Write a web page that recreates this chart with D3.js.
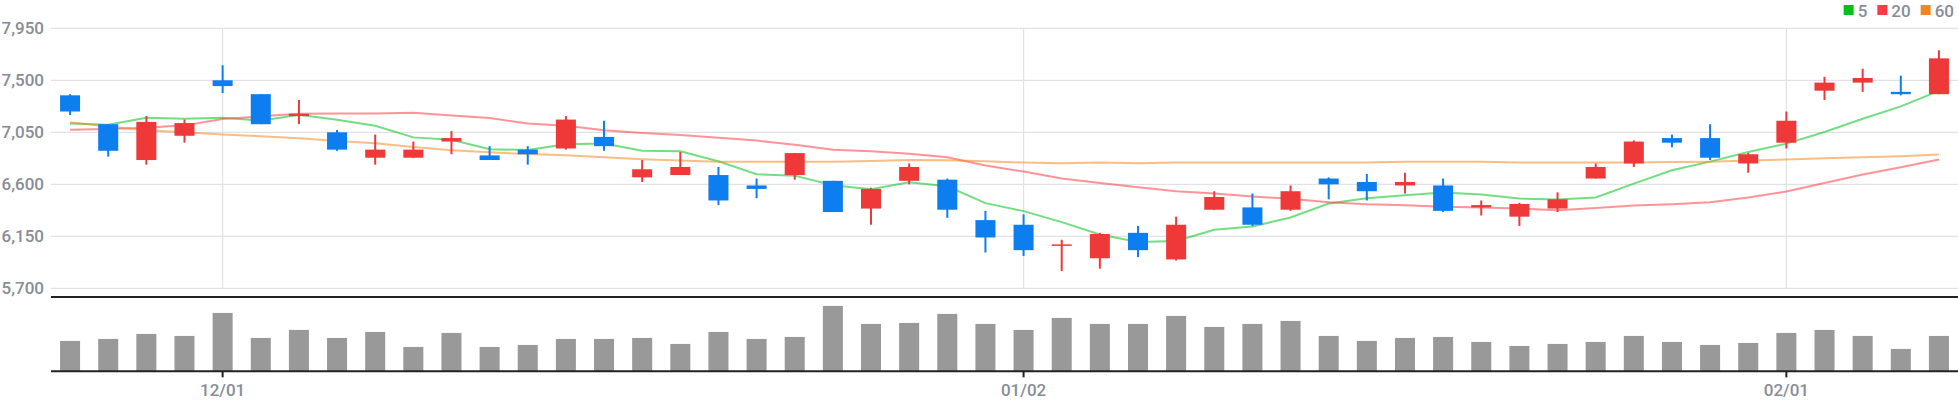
<!DOCTYPE html>
<html><head><meta charset="utf-8">
<script src="https://cdn.jsdelivr.net/npm/d3@7"></script>
<style>
body{margin:0;background:#fff;}
svg{display:block;font-family:Roboto, "Noto Sans", sans-serif;}
</style>
</head><body>
<svg id="chart" width="1958" height="400"></svg>
<script>
const dates = ["11/25","11/28","11/29","11/30",
  "12/01","12/02","12/05","12/06","12/07","12/08","12/09","12/12","12/13","12/14","12/15","12/16","12/19","12/20","12/21","12/22","12/23","12/26","12/27","12/28","12/29",
  "01/02","01/03","01/04","01/05","01/06","01/09","01/10","01/11","01/12","01/13","01/16","01/17","01/18","01/19","01/20","01/25","01/26","01/27","01/30","01/31",
  "02/01","02/02","02/03","02/06","02/07"];
const openP  = [7370,7120,6810,7020,7500,7380,7190,7050,6830,6830,6970,6850,6900,6910,7010,6660,6680,6680,6590,6680,6630,6390,6630,6640,6290,6250,6070,5960,6180,5950,6380,6400,6380,6650,6620,6590,6590,6400,6320,6390,6650,6780,7000,7000,6780,6960,7410,7480,7400,7380];
const highP  = [7380,7120,7190,7160,7630,7380,7330,7070,7030,6970,7060,6930,6930,7190,7150,6810,6880,6750,6650,6870,6630,6570,6780,6650,6370,6340,6120,6180,6240,6320,6540,6520,6590,6660,6690,6700,6650,6460,6440,6530,6780,6980,7030,7120,6870,7230,7530,7600,7540,7760];
const lowP   = [7200,6840,6770,6960,7390,7120,7120,6890,6770,6830,6860,6810,6770,6900,6890,6620,6680,6420,6480,6640,6360,6250,6600,6310,6010,5980,5850,5870,5970,5940,6380,6240,6370,6470,6460,6520,6360,6330,6240,6360,6650,6750,6920,6810,6700,6910,7330,7400,7370,7380];
const closeP = [7230,6890,7140,7130,7450,7120,7210,6900,6900,6900,7000,6810,6860,7160,6930,6730,6750,6460,6560,6870,6360,6560,6750,6380,6140,6030,6080,6170,6030,6250,6490,6250,6540,6600,6540,6620,6370,6420,6430,6470,6750,6970,6960,6830,6860,7150,7480,7520,7380,7690];
const volume = [182000,194000,224000,212000,350000,200000,248000,200000,236000,146000,230000,146000,158000,194000,194000,200000,164000,236000,194000,206000,392000,284000,290000,344000,284000,248000,320000,284000,284000,332000,266000,284000,302000,212000,182000,200000,206000,176000,152000,164000,176000,212000,176000,158000,170000,230000,248000,212000,134000,212000];
const ma5  = [7127,7116,7176,7167,7176,7150,7202,7159,7107,7006,6986,6903,6897,6946,6952,6891,6885,6799,6687,6675,6592,6557,6618,6583,6437,6368,6273,6166,6100,6109,6207,6235,6313,6434,6480,6506,6529,6511,6477,6468,6486,6606,6722,6796,6880,6952,7052,7167,7274,7409];
const ma20 = [7073,7078,7090,7110,7165,7188,7211,7213,7213,7219,7196,7173,7127,7107,7067,7044,7026,7003,6978,6943,6900,6885,6865,6834,6762,6710,6650,6612,6575,6540,6520,6494,6474,6445,6428,6419,6405,6399,6391,6376,6394,6417,6428,6445,6486,6537,6612,6684,6747,6814];
const ma60 = [7136,7101,7067,7050,7032,7015,6998,6975,6955,6923,6894,6877,6862,6851,6834,6816,6805,6796,6796,6796,6796,6802,6811,6808,6799,6788,6782,6788,6782,6788,6788,6788,6788,6788,6788,6796,6796,6796,6788,6788,6788,6788,6793,6796,6805,6814,6825,6834,6842,6857];
const priceTicks = [5700,6150,6600,7050,7500,7950];
const dateTicks = ["12/01","01/02","02/01"];
const legendLabels = ["5","20","60"];

const W = 1958, H = 400;
const left = 51, right = 1958;
const priceTop = 28.3, priceBottom = 288.3;
const volTop = 297, volBottom = 371.3;
const textColor = "#878d97";
const fontSize = "17px";
const fontWeight = 500;
const upColor = "#ef3838", downColor = "#0c7ef0";
const legendColors = ["#00c31a","#ff3a44","#f5861f"];
const maSeries = [ma5, ma20, ma60];

const svg = d3.select("#chart");

const x = d3.scaleBand().domain(dates).range([left, right]).paddingInner(0.475).paddingOuter(0.2375);
const cx = d => x(d) + x.bandwidth() / 2;
const y = d3.scaleLinear().domain([priceTicks[0], priceTicks[priceTicks.length-1]]).range([priceBottom, priceTop]);
const yv = d3.scaleLinear().domain([0, d3.max(volume) / 0.88]).range([volBottom, volTop]);

// grid
const grid = svg.append("g");
grid.selectAll("line.h").data(priceTicks).join("line")
  .attr("x1", left).attr("x2", right)
  .attr("y1", d => y(d)).attr("y2", d => y(d))
  .attr("stroke", "#e0e2e7").attr("stroke-width", 1.2);
grid.selectAll("line.v").data(dateTicks).join("line")
  .attr("x1", d => cx(d)).attr("x2", d => cx(d))
  .attr("y1", priceTop).attr("y2", priceBottom)
  .attr("stroke", "#e0e2e7").attr("stroke-width", 1.2);

// y labels
svg.append("g").selectAll("text").data(priceTicks).join("text")
  .attr("x", 44).attr("y", d => y(d)).attr("dy", "0.36em")
  .attr("text-anchor", "end").attr("fill", textColor)
  .attr("font-size", fontSize).attr("font-weight", fontWeight)
  .text(d => d3.format(",")(d));

// MA lines
const lineGen = d3.line().x((d, i) => cx(dates[i])).y(d => y(d));
svg.append("g").selectAll("path").data(maSeries).join("path")
  .attr("d", d => lineGen(d)).attr("fill", "none")
  .attr("stroke", (d, i) => legendColors[i]).attr("stroke-opacity", 0.55)
  .attr("stroke-width", 2);

// candles
const idx = d3.range(dates.length);
const cg = svg.append("g");
cg.selectAll("line").data(idx).join("line")
  .attr("x1", i => cx(dates[i])).attr("x2", i => cx(dates[i]))
  .attr("y1", i => y(highP[i])).attr("y2", i => y(lowP[i]))
  .attr("stroke", i => closeP[i] >= openP[i] ? upColor : downColor)
  .attr("stroke-width", 2);
cg.selectAll("rect").data(idx).join("rect")
  .attr("x", i => x(dates[i])).attr("width", x.bandwidth())
  .attr("y", i => y(Math.max(openP[i], closeP[i])))
  .attr("height", i => Math.max(1.5, Math.abs(y(openP[i]) - y(closeP[i]))))
  .attr("fill", i => closeP[i] >= openP[i] ? upColor : downColor);

// volume
svg.append("g").selectAll("rect").data(idx).join("rect")
  .attr("x", i => x(dates[i])).attr("width", x.bandwidth())
  .attr("y", i => yv(volume[i])).attr("height", i => volBottom - yv(volume[i]))
  .attr("fill", "#999999");

// panel lines
[volTop, volBottom].forEach(v => {
  svg.append("line").attr("x1", left).attr("x2", right).attr("y1", v).attr("y2", v)
    .attr("stroke", "#222").attr("stroke-width", 2);
});

// x axis
const xAxis = d3.axisBottom(x).tickValues(dateTicks).tickSize(6).tickPadding(7);
const xg = svg.append("g").attr("transform", `translate(0,${volBottom})`).call(xAxis);
xg.select(".domain").remove();
xg.selectAll(".tick line").attr("stroke", "#222").attr("stroke-width", 2);
xg.selectAll(".tick text").attr("fill", textColor).attr("font-size", fontSize)
  .attr("font-weight", fontWeight).attr("font-family", "Roboto, sans-serif");

// legend
const lg = svg.append("g");
let cursor = 1954;
for (let i = legendLabels.length - 1; i >= 0; i--) {
  const t = lg.append("text").attr("y", 16.8).attr("fill", textColor)
    .attr("font-size", fontSize).attr("font-weight", fontWeight).text(legendLabels[i]);
  const w = t.node().getComputedTextLength();
  t.attr("x", cursor - w);
  lg.append("rect").attr("x", cursor - w - 14).attr("y", 5).attr("width", 10).attr("height", 10)
    .attr("fill", legendColors[i]);
  cursor = cursor - w - 14 - 10;
}
</script>
</body></html>
